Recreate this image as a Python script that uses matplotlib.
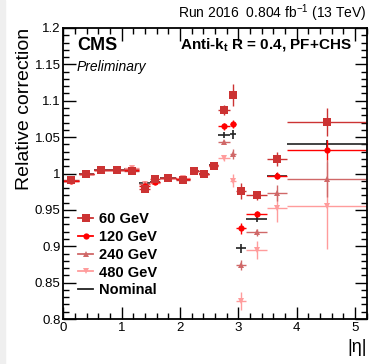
import numpy as np
import matplotlib.pyplot as plt
from matplotlib.lines import Line2D
from matplotlib.patches import Rectangle
from matplotlib.ticker import MultipleLocator

plt.rcParams['font.family'] = ['Liberation Sans', 'DejaVu Sans']

# eta binning (bin edges) and bin centres
eta_edges = np.array([0.0, 0.261, 0.522, 0.783, 1.044, 1.305, 1.479, 1.653, 1.930,
                      2.172, 2.322, 2.500, 2.650, 2.853, 2.964, 3.139, 3.489, 3.839, 5.191])
eta_c = 0.5 * (eta_edges[1:] + eta_edges[:-1])
eta_w = 0.5 * (eta_edges[1:] - eta_edges[:-1])

# relative correction per pT
corr_60 = [0.991, 0.999, 1.005, 1.005, 1.003, 0.979, 0.992, 0.994, 0.991, 1.003, 1.000, 1.010,
           1.087, 1.108, 0.976, 0.970, 1.020, 1.071]
err_60 = [0.002, 0.002, 0.002, 0.002, 0.004, 0.004, 0.003, 0.002, 0.003, 0.003, 0.003, 0.004,
          0.007, 0.015, 0.011, 0.006, 0.010, 0.019]
corr_120 = [0.990, 0.999, 1.005, 1.005, 1.005, 0.983, 0.988, 0.994, 0.992, 1.004, 1.000, 1.011,
            1.065, 1.068, 0.925, 0.945, 0.997, 1.032]
err_120 = [0.002, 0.002, 0.002, 0.002, 0.003, 0.003, 0.003, 0.002, 0.002, 0.003, 0.003, 0.003,
           0.005, 0.006, 0.0075, 0.004, 0.005, 0.014]
corr_240 = [0.990, 0.999, 1.005, 1.005, 1.006, 0.985, 0.988, 0.994, 0.993, 1.004, 0.999, 1.011,
            1.043, 1.027, 0.874, 0.919, 0.973, 0.993]
err_240 = [0.002, 0.002, 0.002, 0.002, 0.003, 0.003, 0.003, 0.002, 0.002, 0.003, 0.003, 0.003,
           0.003, 0.007, 0.007, 0.005, 0.011, 0.025]
corr_480 = [0.990, 0.999, 1.005, 1.005, 1.008, 0.986, 0.987, 0.994, 0.994, 1.003, 0.999, 1.010,
            1.021, 0.990, 0.825, 0.895, 0.952, 0.956]
err_480 = [0.002, 0.002, 0.002, 0.002, 0.003, 0.003, 0.003, 0.002, 0.002, 0.003, 0.003, 0.003,
           0.004, 0.009, 0.012, 0.0125, 0.019, 0.060]
corr_nom = [0.990, 0.999, 1.005, 1.005, 1.006, 0.987, 0.988, 0.994, 0.993, 1.004, 0.999, 1.011,
            1.053, 1.054, 0.897, 0.9375, 0.997, 1.0405]
err_nom = [0.002, 0.002, 0.002, 0.002, 0.003, 0.003, 0.003, 0.002, 0.002, 0.003, 0.003, 0.003,
           0.004, 0.006, 0.0065, 0.004, 0.004, 0.006]

series = [
    ("Nominal", corr_nom, err_nom, "#222222", "", 0),
    ("480 GeV", corr_480, err_480, "#ff9c9c", "v", 4.0),
    ("240 GeV", corr_240, err_240, "#d06868", "^", 4.0),
    ("120 GeV", corr_120, err_120, "#ff0000", "o", 4.5),
    ("60 GeV", corr_60, err_60, "#cc3333", "s", 5.5),
]

fig = plt.figure(figsize=(3.82, 3.64), dpi=100)
fig.patches.append(Rectangle((0, 0), 5 / 382, 1, transform=fig.transFigure,
                             color="#efefef", zorder=-10))
ax = fig.add_axes([63.3 / 382, 1 - 319 / 364, (366.7 - 63.3) / 382, 291 / 364])

handles = {}
for name, y, e, col, mk, ms in series:
    lw = 1.2 if name == "Nominal" else 1.0
    ax.errorbar(eta_c, y, yerr=e, xerr=eta_w, fmt=mk if mk else "none", color=col,
                ecolor=col, ms=ms, elinewidth=lw, capsize=1.5, capthick=lw,
                markeredgewidth=0)
    handles[name] = Line2D([], [], color=col, marker=mk if mk else None, ms=ms,
                           lw=1.3, markeredgewidth=0)

order = ["60 GeV", "120 GeV", "240 GeV", "480 GeV", "Nominal"]
leg = ax.legend([handles[k] for k in order], order, loc="upper left",
                bbox_to_anchor=(0.03, 0.387), frameon=False, handlelength=1.0,
                handletextpad=0.45, labelspacing=0.26, borderaxespad=0,
                prop={"weight": "bold", "size": 10.5})

ax.set_xlim(0, 5.2)
ax.set_ylim(0.8, 1.2)
ax.xaxis.set_major_locator(MultipleLocator(1))
ax.xaxis.set_minor_locator(MultipleLocator(0.2))
ax.yaxis.set_major_locator(MultipleLocator(0.05))
ax.yaxis.set_minor_locator(MultipleLocator(0.01))
ax.set_yticks([0.8, 0.85, 0.9, 0.95, 1.0, 1.05, 1.1, 1.15, 1.2])
ax.set_yticklabels(["0.8", "0.85", "0.9", "0.95", "1", "1.05", "1.1", "1.15", "1.2"])
ax.tick_params(which="both", direction="in", top=True, right=True, labelsize=9.5,
               width=1.0, colors="black")
ax.tick_params(which="major", length=9, pad=2)
ax.tick_params(which="minor", length=4.5)
for s in ax.spines.values():
    s.set_linewidth(1.3)

ax.set_ylabel("Relative correction", loc="top", fontsize=14, labelpad=1)
ax.set_xlabel("|η|", loc="right", fontsize=13, labelpad=4)

ax.text(0.045, 0.94, "CMS", transform=ax.transAxes, fontsize=13, weight="bold",
        ha="left", va="center")
ax.text(0.045, 0.866, "Preliminary", transform=ax.transAxes, fontsize=10, style="italic",
        ha="left", va="center")
ax.text(0.95, 0.94, r"Anti-k$_\mathregular{t}$ R = 0.4, PF+CHS", transform=ax.transAxes,
        fontsize=11, weight="bold", ha="right", va="center")
ax.text(1.0, 1.015, r"Run 2016  0.804 fb$^{\mathregular{-1}}$ (13 TeV)",
        transform=ax.transAxes, fontsize=10, ha="right", va="bottom")

fig.savefig("out.png", dpi=100)
